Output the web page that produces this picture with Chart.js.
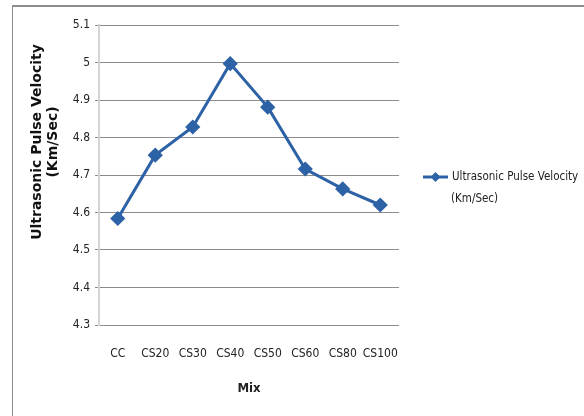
<!DOCTYPE html>
<html>
<head>
<meta charset="utf-8">
<script src="https://cdn.jsdelivr.net/npm/chart.js@4/dist/chart.umd.min.js"></script>
<style>
  html, body { margin: 0; padding: 0; background: #fff; }
  #wrap { position: relative; width: 584px; height: 416px; overflow: hidden; }
  #frame { position: absolute; left: 12px; top: 5px; width: 700px; height: 600px;
           border-left: 1px solid #8c8c8c; border-top: 2px solid #8c8c8c; }
  canvas { position: absolute; left: 0; top: 0; }
</style>
</head>
<body>
<div id="wrap">
  <div id="frame"></div>
  <canvas id="chart" width="584" height="416"></canvas>
</div>
<script>
// Datos del gráfico
const mixes = ["CC", "CS20", "CS30", "CS40", "CS50", "CS60", "CS80", "CS100"];
const upv = [4.584, 4.753, 4.828, 4.997, 4.881, 4.716, 4.663, 4.62];
const seriesName = ["Ultrasonic Pulse Velocity", "(Km/Sec)"];
const yMin = 4.3, yMax = 5.1, yStep = 0.1;

const BLUE = "#2e62a6";
const NARROW = "'Liberation Sans Narrow', 'DejaVu Sans Condensed', 'Liberation Sans', sans-serif";
const BOLD = "'DejaVu Sans', 'Liberation Sans', sans-serif";

// Título del eje Y (dos líneas, girado)
const yTitle = {
  id: "yTitle",
  afterDraw(chart) {
    const ctx = chart.ctx;
    ctx.save();
    ctx.translate(45, 142);
    ctx.rotate(-Math.PI / 2);
    ctx.fillStyle = "#111";
    ctx.font = "bold 14px " + BOLD;
    ctx.textAlign = "center";
    ctx.textBaseline = "middle";
    ctx.fillText(seriesName[0], 0, -8);
    ctx.fillText(seriesName[1], 0, 8);
    ctx.restore();
  }
};

// Leyenda dibujada a la derecha del área del gráfico
const sideLegend = {
  id: "sideLegend",
  afterDraw(chart) {
    const ctx = chart.ctx;
    const x0 = chart.chartArea.right + 24;
    const y0 = 177;
    ctx.save();
    ctx.strokeStyle = BLUE;
    ctx.lineWidth = 3;
    ctx.beginPath();
    ctx.moveTo(x0, y0);
    ctx.lineTo(x0 + 25, y0);
    ctx.stroke();
    ctx.fillStyle = BLUE;
    ctx.beginPath();
    ctx.moveTo(x0 + 12.5, y0 - 5);
    ctx.lineTo(x0 + 17.5, y0);
    ctx.lineTo(x0 + 12.5, y0 + 5);
    ctx.lineTo(x0 + 7.5, y0);
    ctx.closePath();
    ctx.fill();
    ctx.fillStyle = "#222";
    ctx.font = "11.5px " + NARROW;
    ctx.textBaseline = "middle";
    ctx.fillText(seriesName[0], x0 + 29, y0);
    ctx.fillText(seriesName[1], x0 + 28, y0 + 22);
    ctx.restore();
  }
};

new Chart(document.getElementById("chart"), {
  type: "line",
  data: {
    labels: mixes,
    datasets: [{
      label: seriesName.join(" "),
      data: upv,
      borderColor: BLUE,
      backgroundColor: BLUE,
      borderWidth: 3,
      pointStyle: "rectRot",
      pointRadius: 5.5,
      pointHoverRadius: 5.5,
      tension: 0
    }]
  },
  options: {
    responsive: false,
    animation: false,
    layout: { padding: { left: 0, top: 25, right: 185, bottom: 16 } },
    plugins: { legend: { display: false }, tooltip: { enabled: false } },
    scales: {
      x: {
        offset: true,
        grid: { display: false, drawTicks: false },
        border: { display: false },
        ticks: { color: "#222", font: { family: NARROW, size: 12 }, padding: 22, maxRotation: 0, autoSkip: false },
        title: { display: true, text: "Mix", color: "#222", font: { family: NARROW, size: 13, weight: "bold" }, padding: { top: 15 } },
        afterFit(scale) { scale.height = 75; }
      },
      y: {
        min: yMin,
        max: yMax,
        ticks: {
          stepSize: yStep,
          color: "#222",
          font: { family: NARROW, size: 12 },
          padding: 5,
          callback: v => String(Number(v.toFixed(1)))
        },
        grid: { color: "#8c8c8c", lineWidth: 1, tickLength: 4 },
        border: { display: true, color: "#d4d4d4", width: 2 },
        afterFit(scale) { scale.width = 99; }
      }
    }
  },
  plugins: [yTitle, sideLegend]
});
</script>
</body>
</html>
